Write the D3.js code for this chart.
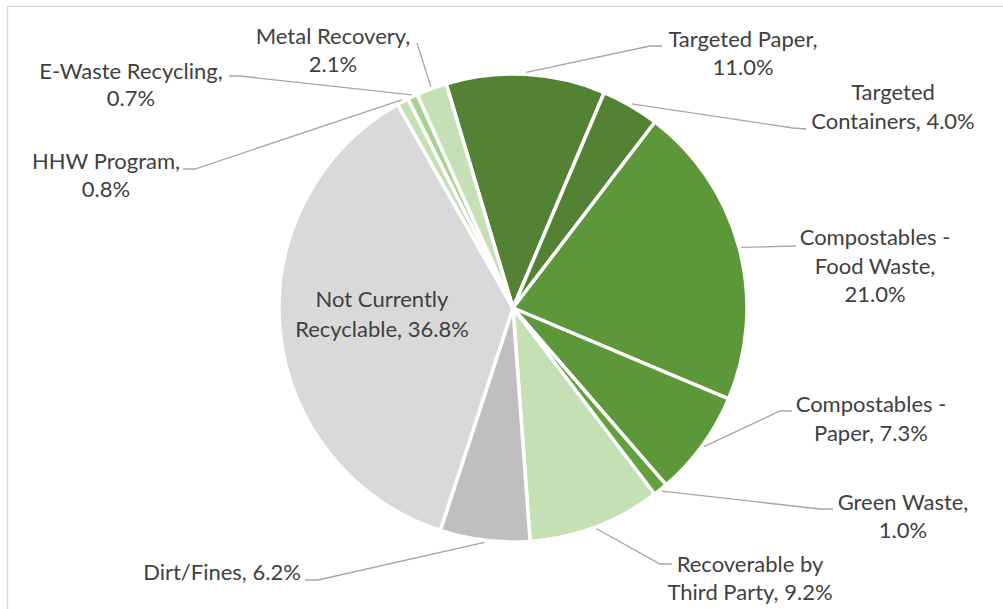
<!DOCTYPE html>
<html>
<head>
<meta charset="utf-8">
<script src="https://cdn.jsdelivr.net/npm/d3@7"></script>
<style>
  html, body { margin: 0; padding: 0; background: #ffffff; }
  svg { display: block; }
</style>
</head>
<body>
<svg id="chart" width="1003" height="609"></svg>
<script>
// Waste composition shares (percent), listed clockwise from the top
const categories = [
  "Targeted Paper",
  "Targeted Containers",
  "Compostables - Food Waste",
  "Compostables - Paper",
  "Green Waste",
  "Recoverable by Third Party",
  "Dirt/Fines",
  "Not Currently Recyclable",
  "HHW Program",
  "E-Waste Recycling",
  "Metal Recovery"
];
const values = [11.0, 4.0, 21.0, 7.3, 1.0, 9.2, 6.2, 36.8, 0.8, 0.7, 2.1];
const colors = [
  "#548235", "#548235", "#5c983a", "#5c983a", "#63a03e",
  "#c5e0b4", "#bfbfbf", "#d9d9d9", "#c5e0b4", "#a9d18e", "#c5e0b4"
];

// Label placement: words per line, text centre x, first baseline y, line gap,
// and the leader-line path from the slice edge to the label (null = inside label)
const labelLayout = [
  { words: [2, 1],    x: 743, y: 47,  gap: 28, leader: [[650, 46], [662, 46]] },
  { words: [1, 2],    x: 893, y: 100, gap: 29, leader: [[793, 128], [806, 129]] },
  { words: [2, 2, 1], x: 875, y: 245, gap: 28.5, leader: [[796, 246]] },
  { words: [2, 2],    x: 871, y: 412, gap: 29, leader: [[780, 411], [792, 411]] },
  { words: [2, 1],    x: 903, y: 510, gap: 28, leader: [[820, 509], [833, 509]] },
  { words: [2, 3],    x: 750, y: 572, gap: 28, leader: [[660, 564], [672, 564]] },
  { words: [3],       x: 222, y: 580, gap: 28, leader: [[318, 580], [305, 580]] },
  { words: [2, 2],    x: 382, y: 307, gap: 30, leader: null },
  { words: [2, 1],    x: 106, y: 169, gap: 28, leader: [[195, 169], [183, 169]] },
  { words: [2, 1],    x: 131, y: 79,  gap: 27, leader: [[240, 76], [229, 76]] },
  { words: [2, 1],    x: 333, y: 44,  gap: 28, leader: [[417, 43]] }
];

const svg = d3.select("#chart");
const W = 1003, H = 609;
const cx = 513, cy = 308, radius = 234;

// Chart area frame
svg.append("rect")
  .attr("x", 7.5).attr("y", 6.5)
  .attr("width", W).attr("height", H)
  .attr("fill", "#ffffff")
  .attr("stroke", "#d9d9d9")
  .attr("stroke-width", 1.3);

const startAngle = -16.6 * Math.PI / 180;
const pie = d3.pie()
  .sort(null)
  .value(d => d)
  .startAngle(startAngle)
  .endAngle(startAngle + 2 * Math.PI);

const arcs = pie(values);
const arc = d3.arc().innerRadius(0).outerRadius(radius);

const g = svg.append("g").attr("transform", `translate(${cx},${cy})`);

g.selectAll("path.slice")
  .data(arcs)
  .join("path")
  .attr("class", "slice")
  .attr("d", arc)
  .attr("fill", (d, i) => colors[i])
  .attr("stroke", "#ffffff")
  .attr("stroke-width", 3.5)
  .attr("stroke-linejoin", "round");

// Leader lines start at the slice's mid-angle just outside the rim
const rimArc = d3.arc().innerRadius(radius + 2).outerRadius(radius + 2);
const line = d3.line();

arcs.forEach((a, i) => {
  const lay = labelLayout[i];
  if (!lay.leader) return;
  const [px, py] = rimArc.centroid(a);
  const pts = [[cx + px, cy + py], ...lay.leader];
  svg.append("path")
    .attr("d", line(pts))
    .attr("fill", "none")
    .attr("stroke", "#a6a6a6")
    .attr("stroke-width", 1.3);
});

// Data labels: "<name>, <value>%" wrapped into lines
const fmt = d3.format(".1f");
arcs.forEach((a, i) => {
  const lay = labelLayout[i];
  const words = `${categories[i]}, ${fmt(values[i])}%`.split(" ");
  const lines = [];
  let k = 0;
  lay.words.forEach(n => { lines.push(words.slice(k, k + n).join(" ")); k += n; });
  const t = svg.append("text")
    .attr("x", lay.x)
    .attr("y", lay.y)
    .attr("text-anchor", "middle")
    .attr("font-family", "Lato, 'Open Sans', sans-serif")
    .attr("font-size", 22)
    .attr("fill", "#404040");
  lines.forEach((s, j) => {
    t.append("tspan")
      .attr("x", lay.x)
      .attr("y", lay.y + j * lay.gap)
      .text(s);
  });
});
</script>
</body>
</html>
